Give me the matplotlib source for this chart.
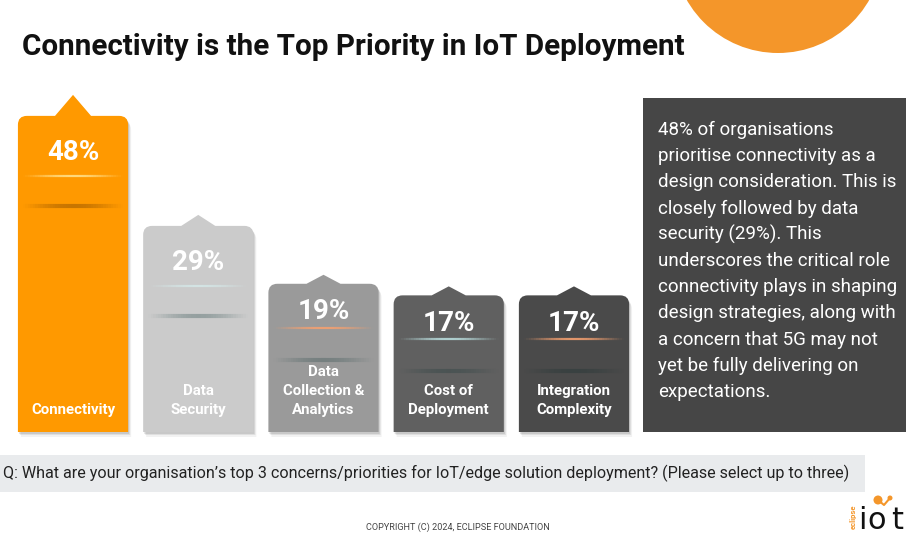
import numpy as np
import matplotlib
matplotlib.use("Agg")
import matplotlib.pyplot as plt
from matplotlib.patches import PathPatch, Rectangle, Circle
from matplotlib.path import Path
from matplotlib.collections import LineCollection
from matplotlib.transforms import IdentityTransform
from matplotlib.colors import to_rgba

plt.rcParams["font.family"] = ["Roboto", "DejaVu Sans"]

# data
categories = ["Connectivity", "Data\nSecurity", "Data\nCollection &\nAnalytics",
              "Cost of\nDeployment", "Integration\nComplexity"]
values = [48, 29, 19, 17, 17]
value_labels = ["48%", "29%", "19%", "17%", "17%"]
bar_colors = ["#ff9900", "#cbcbcb", "#9a9a9a", "#606060", "#4a4a4a"]
glow_colors = ["#ffe08a", "#d4e6e6", "#f4a070", "#b8dcdc", "#f4a070"]
shade_colors = ["#9a5800", "#6a7e7e", "#5a6c6c", "#3a4a4a", "#2c3a3a"]

title = "Connectivity is the Top Priority in IoT Deployment"
summary_lines = [
    "48% of organisations",
    "prioritise connectivity as a",
    "design consideration. This is",
    "closely followed by data",
    "security (29%). This",
    "underscores the critical role",
    "connectivity plays in shaping",
    "design strategies, along with",
    "a concern that 5G may not",
    "yet be fully delivering on",
    "expectations.",
]
question = ("Q: What are your organisation\u2019s top 3 concerns/priorities for "
            "IoT/edge solution deployment? (Please select up to three)")
footer = "COPYRIGHT (C) 2024, ECLIPSE FOUNDATION"

W, H = 918, 538
BASE = 6.6   # bars start a little below zero, like the original slide

fig = plt.figure(figsize=(W / 100, H / 100), dpi=100)
deco = fig.add_axes([0, 0, 1, 1])
deco.set_xlim(0, W)
deco.set_ylim(H, 0)
deco.axis("off")


def px_box(l, t, r, b):
    return [l / W, 1 - b / H, (r - l) / W, (b - t) / H]


ax = fig.add_axes(px_box(10.4, 104.3, 636.6, 432))
ax.set_xlim(-0.5, 4.5)
ax.set_ylim(-BASE, 50)
ax.axis("off")

# decorations
deco.add_patch(Circle((778, -52), 105, color="#f4962a", lw=0))
deco.text(22, 47, title, fontsize=21.3, fontweight="bold", color="#111111",
          ha="left", va="center")

deco.add_patch(Rectangle((643, 98), 263, 334, color="#464646", lw=0))
for i, line in enumerate(summary_lines):
    deco.text(658, 130 + 26.2 * i, line, fontsize=13.5, color="white",
              ha="left", va="center")

deco.add_patch(Rectangle((0, 455), 865, 37, color="#e9ebed", lw=0))
deco.text(3, 473.5, question, fontsize=11.65, color="#222222", ha="left", va="center")
deco.text(458, 527, footer, fontsize=6.6, color="#444444", ha="center", va="center")

# logo
deco.text(853, 517, "eclipse", fontsize=5.5, fontweight="bold", color="#f4962a",
          rotation=90, ha="center", va="center")
for ch, xpos in [("i", 858), ("o", 867), ("t", 891)]:
    deco.text(xpos, 529, ch, fontsize=22, color="#111111", family="DejaVu Sans",
              ha="left", va="baseline")
deco.plot([878, 884, 890], [500, 505, 498], color="#f4962a", lw=1.5)
deco.add_patch(Circle((878, 500), 4.5, color="#f4962a", lw=0))
deco.add_patch(Circle((890, 498), 2.5, color="#f4962a", lw=0))

# bars
x = np.arange(len(values))
bars = ax.bar(x, np.array(values) + BASE, bottom=-BASE, width=0.88, color=bar_colors)

ident = IdentityTransform()
for i, b in enumerate(bars):
    (x0, yb), (x1, yt) = ax.transData.transform(
        [(b.get_x(), b.get_y()), (b.get_x() + b.get_width(), b.get_y() + b.get_height())])
    b.set_visible(False)
    xc = (x0 + x1) / 2
    hpx = yt - yb
    tall = hpx > 180
    r = 9
    pw, ph = (18, 21) if i == 0 else (17, 11 if tall else 9)
    verts = [(x0, yb), (x0, yt - r), (x0, yt), (x0 + r, yt),
             (xc - pw, yt), (xc, yt + ph), (xc + pw, yt),
             (x1 - r, yt), (x1, yt), (x1, yt - r), (x1, yb), (x0, yb)]
    codes = [Path.MOVETO, Path.LINETO, Path.CURVE3, Path.CURVE3,
             Path.LINETO, Path.LINETO, Path.LINETO,
             Path.LINETO, Path.CURVE3, Path.CURVE3, Path.LINETO, Path.CLOSEPOLY]
    path = Path(verts, codes)
    # soft shadow
    for dx, dy, a in [(1, -2, 0.10), (2, -3, 0.08), (3, -5, 0.05)]:
        sh = Path(np.array(verts) + [dx, dy], codes)
        ax.add_patch(PathPatch(sh, transform=ident, color="black", alpha=a,
                               lw=0, clip_on=False, zorder=1))
    ax.add_patch(PathPatch(path, transform=ident, facecolor=bar_colors[i], lw=0,
                           clip_on=False, zorder=2))

    # highlight and shade streaks
    off_light, off_dark = (60, 90) if tall else (44, 76)
    t = np.linspace(0, 1, 41)
    xs = x0 + 5 + t * (x1 - x0 - 10)
    for yoff, col, lw, peak in [(off_light, glow_colors[i], 1.6, 0.9),
                                (off_dark, shade_colors[i], 3.0, 0.55)]:
        segs = [[(xs[k], yt - yoff), (xs[k + 1], yt - yoff)] for k in range(40)]
        alphas = peak * np.sin(np.pi * (t[:-1] + t[1:]) / 2) ** 1.2
        cols = [to_rgba(col, a) for a in alphas]
        ax.add_collection(LineCollection(segs, colors=cols, linewidths=lw,
                                         transform=ident, clip_on=False, zorder=3))

    off_val = 37 if tall else 28
    ax.annotate(value_labels[i], xy=(x[i], values[i]), xytext=(0, -off_val * 0.72),
                textcoords="offset points", ha="center", va="center",
                fontsize=20, fontweight="bold", color="white", zorder=4)
    ax.annotate(categories[i], xy=(x[i], -BASE), xytext=(0, 15 * 0.72),
                textcoords="offset points", ha="center", va="bottom",
                multialignment="center", linespacing=1.45,
                fontsize=10.8, fontweight="bold", color="white", zorder=4)

fig.savefig("out.png", dpi=100)
